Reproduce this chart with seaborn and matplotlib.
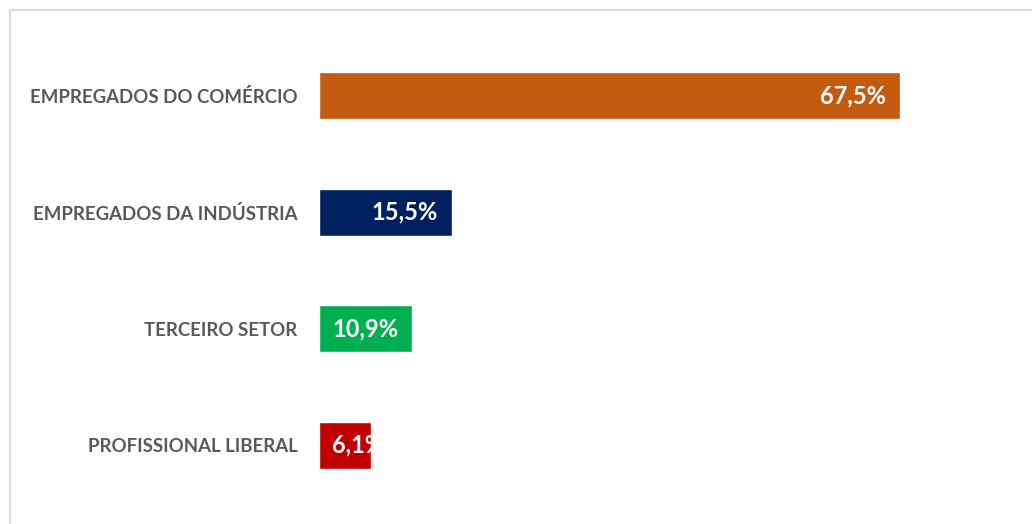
import matplotlib
matplotlib.use("Agg")
import matplotlib.pyplot as plt
import seaborn as sns
import pandas as pd
from matplotlib.patches import Rectangle

categories = ["EMPREGADOS DO COMÉRCIO", "EMPREGADOS DA INDÚSTRIA", "TERCEIRO SETOR", "PROFISSIONAL LIBERAL"]
values = [67.5, 15.5, 10.9, 6.1]
value_labels = ["67,5%", "15,5%", "10,9%", "6,1%"]
colors = ["#C55A11", "#002060", "#00B050", "#C00000"]

sns.set_style("white")
plt.rcParams["font.family"] = ["Lato", "DejaVu Sans"]

df = pd.DataFrame({"cat": categories, "val": values})

fig = plt.figure(figsize=(10.32, 5.24), dpi=100)
W, H = 1032, 524
x0, px_per = 318.5, 581.5 / 67.5
xmax = 80
ax_right = x0 + xmax * px_per
top_px, bot_px = 96 - 58.2, 445 + 58.2
ax = fig.add_axes([x0 / W, 1 - bot_px / H, (ax_right - x0) / W, (bot_px - top_px) / H])

sns.barplot(data=df, y="cat", x="val", hue="cat", palette=colors, orient="h",
            width=0.404, legend=False, ax=ax, saturation=1)
ax.set_xlim(0, xmax)
ax.set_xlabel("")
ax.set_ylabel("")
ax.set_xticks([])
for s in ax.spines.values():
    s.set_visible(False)
ax.tick_params(axis="y", length=0, pad=15)
for lbl in ax.get_yticklabels():
    lbl.set_fontweight("bold")
    lbl.set_color("#595959")
    lbl.set_fontsize(13.4)

for patch, v, t in zip(ax.patches, values, value_labels):
    yc = patch.get_y() + patch.get_height() / 2
    if v > 8:
        txt = ax.annotate(t, (v, yc), xytext=(-10, 0), textcoords="offset points",
                          ha="right", va="center", color="white", fontweight="bold", fontsize=17)
    else:
        txt = ax.annotate(t, (0, yc), xytext=(10, 0), textcoords="offset points",
                          ha="left", va="center", color="white", fontweight="bold", fontsize=17)
    txt.set_clip_path(patch)

fig.patches.append(Rectangle((9.5 / W, -0.1), 1.2, 1.1 - 10.5 / H, transform=fig.transFigure,
                             fill=False, edgecolor="#D9D9D9", linewidth=1.5, zorder=0))

fig.savefig("out.png", dpi=100, facecolor="white")
